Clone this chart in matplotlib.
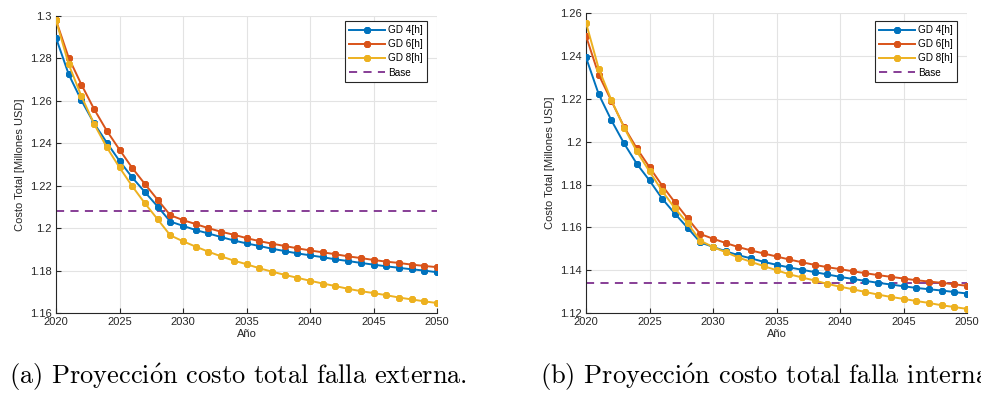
import matplotlib
matplotlib.use("Agg")
import matplotlib.pyplot as plt
from matplotlib.ticker import FuncFormatter, MultipleLocator
import numpy as np

years = list(range(2020, 2051))

# (a) falla externa
ext_gd4 = [1.2897, 1.2725, 1.2602, 1.2494, 1.2403, 1.2317, 1.2239, 1.2170, 1.2102, 1.2031,
           1.2011, 1.1991, 1.1975, 1.1958, 1.1942, 1.1928, 1.1916, 1.1903, 1.1892, 1.1881,
           1.1872, 1.1863, 1.1853, 1.1845, 1.1836, 1.1828, 1.1820, 1.1813, 1.1806, 1.1800, 1.1792]
ext_gd6 = [1.2980, 1.2803, 1.2677, 1.2561, 1.2459, 1.2370, 1.2284, 1.2208, 1.2134, 1.2061,
           1.2038, 1.2019, 1.2000, 1.1983, 1.1969, 1.1953, 1.1939, 1.1927, 1.1916, 1.1905,
           1.1895, 1.1886, 1.1877, 1.1867, 1.1859, 1.1850, 1.1842, 1.1836, 1.1828, 1.1822, 1.1816]
ext_gd8 = [1.2980, 1.2772, 1.2622, 1.2491, 1.2381, 1.2286, 1.2198, 1.2117, 1.2042, 1.1966,
           1.1938, 1.1913, 1.1889, 1.1867, 1.1847, 1.1830, 1.1811, 1.1795, 1.1780, 1.1766,
           1.1752, 1.1739, 1.1727, 1.1714, 1.1703, 1.1694, 1.1684, 1.1673, 1.1664, 1.1655, 1.1647]
ext_base = 1.2081

# (b) falla interna
int_gd4 = [1.2394, 1.2222, 1.2100, 1.1992, 1.1897, 1.1819, 1.1734, 1.1664, 1.1598, 1.1530,
           1.1509, 1.1488, 1.1470, 1.1455, 1.1439, 1.1425, 1.1413, 1.1402, 1.1391, 1.1380,
           1.1369, 1.1359, 1.1350, 1.1341, 1.1333, 1.1325, 1.1317, 1.1311, 1.1305, 1.1298, 1.1291]
int_gd6 = [1.2494, 1.2313, 1.2191, 1.2069, 1.1969, 1.1881, 1.1795, 1.1717, 1.1642, 1.1569,
           1.1547, 1.1527, 1.1508, 1.1492, 1.1478, 1.1464, 1.1450, 1.1437, 1.1425, 1.1414,
           1.1405, 1.1395, 1.1386, 1.1377, 1.1369, 1.1361, 1.1353, 1.1347, 1.1341, 1.1334, 1.1327]
int_gd8 = [1.2556, 1.2342, 1.2194, 1.2066, 1.1955, 1.1861, 1.1770, 1.1689, 1.1619, 1.1538,
           1.1508, 1.1484, 1.1459, 1.1439, 1.1419, 1.1400, 1.1381, 1.1366, 1.1352, 1.1336,
           1.1323, 1.1311, 1.1298, 1.1286, 1.1275, 1.1266, 1.1256, 1.1247, 1.1236, 1.1228, 1.1219]
int_base = 1.1338

series_labels = ["GD 4[h]", "GD 6[h]", "GD 8[h]"]
base_label = "Base"
colors = ["#0072BD", "#D95319", "#EDB120"]
base_color = "#7E2F8E"

xlabel = "Año"
ylabel = "Costo Total [Millones USD]"
captions = ["(a) Proyecci$\\acute{\\mathrm{o}}$n costo total falla externa.",
            "(b) Proyecci$\\acute{\\mathrm{o}}$n costo total falla interna."]

plt.rcParams['font.family'] = ['Liberation Sans', 'DejaVu Sans']
plt.rcParams['mathtext.fontset'] = 'cm'

fig = plt.figure(figsize=(9.81, 3.98), dpi=100)
W, H = 981, 398

def ax_rect(x0, x1, y0, y1):
    return [x0 / W, 1 - y1 / H, (x1 - x0) / W, (y1 - y0) / H]

ax1 = fig.add_axes(ax_rect(56, 437, 16, 313))
ax2 = fig.add_axes(ax_rect(586, 967, 13.3, 313))

fmt = FuncFormatter(lambda v, p: f"{v:g}")
tick_color = "#262626"

def draw(ax, data, base, ylim, leg_anchor):
    for vals, c, lab in zip(data, colors, series_labels):
        ax.plot(years, vals, color=c, lw=1.4, marker=(8, 2, 0), ms=5.0, mew=1.5,
                label=lab, zorder=3)
    ax.plot([years[0], years[-1]], [base, base], color=base_color, lw=1.3,
            ls=(0, (4.5, 3.5)), label=base_label, zorder=2)
    ax.set_xlim(2020, 2050)
    ax.set_ylim(*ylim)
    ax.xaxis.set_major_locator(MultipleLocator(5))
    ax.yaxis.set_major_locator(MultipleLocator(0.02))
    ax.yaxis.set_major_formatter(fmt)
    ax.grid(True, color="#e3e3e3", lw=0.8, zorder=0)
    ax.set_axisbelow(True)
    for s in ["top", "right"]:
        ax.spines[s].set_visible(False)
    for s in ["left", "bottom"]:
        ax.spines[s].set_color(tick_color)
        ax.spines[s].set_linewidth(0.8)
    ax.tick_params(direction="in", length=3.5, width=0.8, colors=tick_color,
                   labelsize=8, pad=3)
    ax.set_xlabel(xlabel, fontsize=8, color=tick_color, labelpad=1)
    ax.set_ylabel(ylabel, fontsize=8, color=tick_color, labelpad=4)
    leg = ax.legend(loc="upper right", bbox_to_anchor=leg_anchor, fontsize=7.2,
                    frameon=True, fancybox=False,
                    edgecolor="#262626", framealpha=1, handlelength=3.6,
                    handletextpad=0.3, labelspacing=0.42, borderpad=0.4,
                    borderaxespad=0.0)
    leg.get_frame().set_linewidth(0.8)

draw(ax1, [ext_gd4, ext_gd6, ext_gd8], ext_base, (1.16, 1.30), (0.974, 0.983))
draw(ax2, [int_gd4, int_gd6, int_gd8], int_base, (1.12, 1.26), (0.974, 0.974))

cap_font = ['cmr10', 'DejaVu Serif']
fig.text(9 / W, 1 - 377 / H, captions[0], fontsize=19, family=cap_font,
         ha="left", va="center")
fig.text(540 / W, 1 - 377 / H, captions[1], fontsize=19, family=cap_font,
         ha="left", va="center")

fig.savefig("out.png", dpi=100)
